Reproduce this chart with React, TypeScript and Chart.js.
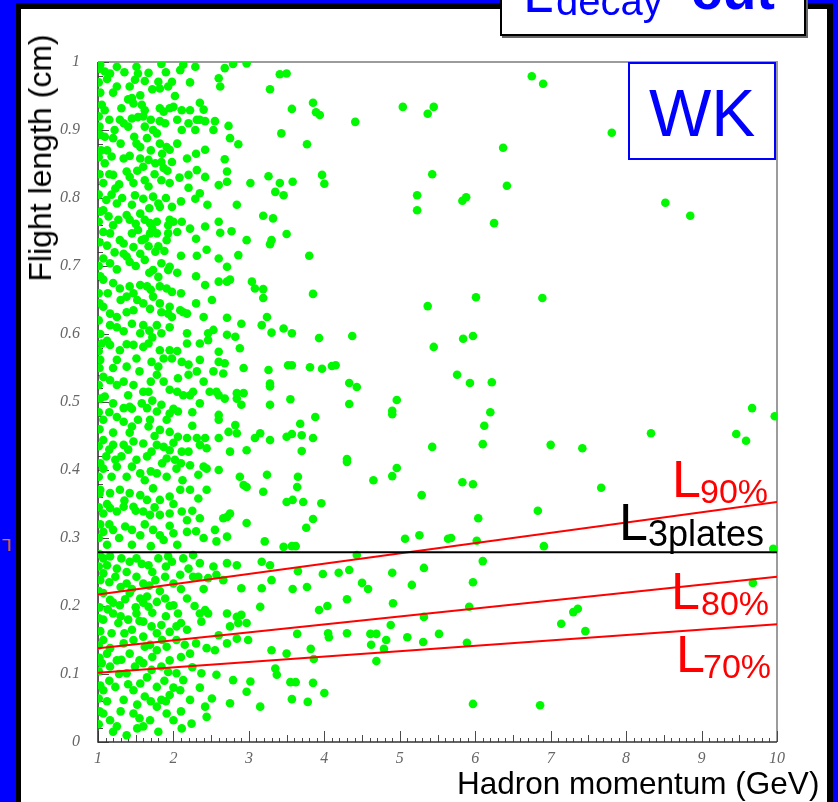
import React, { useEffect, useRef } from 'react';
import { Chart, registerables } from 'chart.js';
Chart.register(...registerables);

// ---------- axis ----------
const X_MIN = 1;
const X_MAX = 10;
const Y_MIN = 0;
const Y_MAX = 1;
const X_TICKS = [1, 2, 3, 4, 5, 6, 7, 8, 9, 10];
const X_TICK_LABELS = ['1', '2', '3', '4', '5', '6', '7', '8', '9', '10'];
const Y_TICKS = [0, 0.1, 0.2, 0.3, 0.4, 0.5, 0.6, 0.7, 0.8, 0.9, 1];
const Y_TICK_LABELS = ['0', '0.1', '0.2', '0.3', '0.4', '0.5', '0.6', '0.7', '0.8', '0.9', '1'];

// ---------- cut lines (x, y) ----------
const L90 = [[1, 0.217], [10, 0.353]];
const L80 = [[1, 0.138], [10, 0.243]];
const L70 = [[1, 0.102], [10, 0.173]];
const L3PLATES = [[1, 0.279], [10, 0.279]];

// ---------- events: hadron momentum (GeV), flight length (cm) ----------
const EDGE: [number, number][] = [
  [1.02, 0.99], [1.01, 0.97], [1.03, 0.955], [1.01, 0.92], [1.02, 0.905], [1.04, 0.87], [1.01, 0.86],
  [1.02, 0.835], [1.01, 0.805], [1.03, 0.78], [1.01, 0.765], [1.02, 0.735], [1.01, 0.7], [1.03, 0.685],
  [1.01, 0.66], [1.02, 0.645], [1.01, 0.62], [1.03, 0.6], [1.01, 0.575], [1.02, 0.55], [1.01, 0.525],
  [1.03, 0.505], [1.01, 0.485], [1.02, 0.46], [1.01, 0.435], [1.03, 0.41], [1.01, 0.39], [1.02, 0.365],
  [1.01, 0.345], [1.03, 0.32], [1.01, 0.3], [1.02, 0.276], [1.01, 0.258], [1.03, 0.238], [1.01, 0.222],
  [1.02, 0.198], [1.01, 0.182], [1.03, 0.163], [1.01, 0.142], [1.02, 0.124], [1.01, 0.104], [1.03, 0.083],
  [1.01, 0.064], [1.02, 0.045], [1.01, 0.026],
];

const UPPER_LEFT: [number, number][] = [
  [1.03, 0.996], [1.09, 0.986], [1.16, 0.983], [1.25, 0.993], [1.51, 0.993], [1.53, 0.983], [1.67, 0.984],
  [1.84, 0.997], [2.09, 0.988], [2.13, 0.996], [2.29, 0.993], [2.68, 0.991], [2.79, 0.997], [2.97, 0.998],
  [3.41, 0.982], [3.5, 0.983], [1.25, 0.964], [1.42, 0.964], [1.49, 0.974], [1.8, 0.971], [1.82, 0.961],
  [1.93, 0.964], [1.98, 0.971], [2.6, 0.976], [2.62, 0.964], [3.28, 0.96], [1.05, 0.937], [1.09, 0.929],
  [1.31, 0.932], [1.45, 0.947], [1.47, 0.939], [1.56, 0.951], [1.58, 0.937], [1.62, 0.929], [1.82, 0.932],
  [1.87, 0.927], [1.95, 0.932], [2.0, 0.934], [2.11, 0.929], [2.22, 0.929], [2.4, 0.93], [1.29, 0.915],
  [1.34, 0.91], [1.45, 0.917], [1.53, 0.919], [1.6, 0.92], [1.62, 0.905], [1.73, 0.9], [1.82, 0.913],
  [1.89, 0.91], [2.11, 0.9], [2.2, 0.91], [2.31, 0.915], [2.35, 0.915], [2.42, 0.913], [2.55, 0.913],
  [2.53, 0.9], [2.29, 0.9], [2.73, 0.906], [3.43, 0.895], [1.03, 0.893], [1.09, 0.89], [1.2, 0.888],
  [1.51, 0.88], [1.56, 0.875], [1.65, 0.888], [1.82, 0.88], [1.91, 0.875], [1.95, 0.871], [2.42, 0.871],
  [2.75, 0.888], [2.86, 0.879], [1.09, 0.851], [1.18, 0.861], [1.34, 0.858], [1.56, 0.858], [1.6, 0.846],
  [1.67, 0.856], [1.76, 0.851], [1.84, 0.853], [1.87, 0.844], [1.98, 0.853], [2.18, 0.858], [2.2, 0.834],
  [2.31, 0.841], [2.42, 0.831], [2.68, 0.857], [2.71, 0.839], [2.6, 0.819], [2.71, 0.824], [3.02, 0.822],
  [3.26, 0.832], [3.35, 0.809], [3.41, 0.822], [3.46, 0.804], [1.07, 0.822], [1.2, 0.834], [1.23, 0.814],
  [1.38, 0.839], [1.42, 0.831], [1.47, 0.822], [1.49, 0.804], [1.62, 0.826], [1.67, 0.817], [1.84, 0.826],
  [1.95, 0.822], [1.6, 0.799], [1.73, 0.802], [1.8, 0.792], [1.82, 0.787], [1.98, 0.787], [1.95, 0.768],
  [2.35, 0.807], [2.29, 0.799], [2.84, 0.79], [3.19, 0.774], [3.32, 0.77], [3.5, 0.747], [1.11, 0.797],
  [1.07, 0.782], [1.25, 0.792], [1.14, 0.773], [1.27, 0.768], [1.38, 0.775], [1.42, 0.768], [1.56, 0.777],
  [1.62, 0.768], [1.69, 0.763], [1.78, 0.765], [1.93, 0.76], [2.0, 0.765], [2.11, 0.765], [2.22, 0.755],
  [2.42, 0.758], [2.6, 0.765], [2.62, 0.749], [2.77, 0.751], [2.97, 0.738], [3.3, 0.738], [3.28, 0.732],
  [1.07, 0.75], [1.16, 0.748], [1.29, 0.738], [1.34, 0.733], [1.45, 0.748], [1.53, 0.753], [1.58, 0.738],
  [1.69, 0.748], [1.78, 0.748], [1.93, 0.748], [1.91, 0.738], [1.8, 0.729], [1.34, 0.718], [1.56, 0.718],
  [1.67, 0.729], [1.76, 0.721], [2.31, 0.715], [2.44, 0.724], [2.6, 0.711], [2.86, 0.716], [1.07, 0.711],
  [1.16, 0.704], [1.38, 0.714], [1.42, 0.706], [1.62, 0.709], [1.73, 0.694], [1.84, 0.704], [1.95, 0.699],
  [1.93, 0.694], [1.8, 0.684], [2.71, 0.699], [1.07, 0.68], [1.2, 0.675], [1.29, 0.667], [1.42, 0.67],
  [1.47, 0.66], [1.56, 0.672], [1.65, 0.67], [1.82, 0.67], [1.91, 0.667], [1.98, 0.662], [1.38, 0.655],
  [1.6, 0.645], [1.73, 0.655], [1.82, 0.645], [1.95, 0.64], [2.09, 0.635], [2.42, 0.672], [2.6, 0.677],
  [2.71, 0.677], [2.75, 0.68], [3.04, 0.677], [3.08, 0.667], [3.19, 0.666], [3.19, 0.653], [2.51, 0.65],
  [1.07, 0.64], [1.16, 0.63], [1.25, 0.625], [1.38, 0.632], [1.47, 0.635], [1.69, 0.637], [1.84, 0.632],
  [1.93, 0.63], [1.98, 0.625], [2.13, 0.632], [2.18, 0.63], [1.16, 0.613], [1.34, 0.604], [1.56, 0.601],
  [1.6, 0.613], [1.78, 0.613], [1.84, 0.601], [2.18, 0.601], [2.46, 0.601], [2.53, 0.606], [2.71, 0.624],
  [2.71, 0.599], [2.82, 0.596], [2.9, 0.615], [3.17, 0.613], [3.24, 0.625], [3.3, 0.602], [3.46, 0.608],
];

const FILL_UPPER: [number, number][] = [
  [1.12, 0.975], [1.2, 0.955], [1.35, 0.985], [1.4, 0.945], [1.62, 0.972], [1.72, 0.96], [1.9, 0.985],
  [2.02, 0.95], [2.22, 0.97], [1.15, 0.915], [1.22, 0.9], [1.4, 0.905], [1.48, 0.89], [1.7, 0.915],
  [1.78, 0.895], [2.05, 0.915], [2.35, 0.94], [1.12, 0.87], [1.3, 0.88], [1.42, 0.862], [1.7, 0.87],
  [1.85, 0.865], [2.05, 0.88], [2.3, 0.865], [1.15, 0.835], [1.28, 0.82], [1.52, 0.84], [1.75, 0.835],
  [1.92, 0.84], [2.08, 0.83], [2.2, 0.815], [1.18, 0.805], [1.32, 0.8], [1.45, 0.79], [1.68, 0.785],
  [1.9, 0.8], [2.1, 0.795], [2.45, 0.79], [1.2, 0.76], [1.5, 0.762], [1.72, 0.755], [2.05, 0.75],
  [2.3, 0.74], [1.12, 0.73], [1.22, 0.72], [1.47, 0.728], [1.62, 0.74], [1.88, 0.722], [2.1, 0.715],
  [1.25, 0.695], [1.5, 0.7], [1.68, 0.69], [2.05, 0.69], [2.3, 0.685], [1.13, 0.66], [1.3, 0.65],
  [1.52, 0.65], [1.7, 0.665], [2.1, 0.66], [2.3, 0.645], [1.25, 0.61], [1.45, 0.615], [1.68, 0.605],
  [1.95, 0.61], [2.4, 0.625],
];

const LOWER_LEFT: [number, number][] = [
  [1.05, 0.586], [1.16, 0.584], [1.29, 0.576], [1.47, 0.584], [1.6, 0.581], [1.67, 0.586], [1.82, 0.576],
  [1.95, 0.576], [2.18, 0.586], [2.35, 0.586], [2.46, 0.591], [2.6, 0.574], [2.88, 0.579], [1.03, 0.562],
  [1.25, 0.562], [1.38, 0.552], [1.51, 0.564], [1.71, 0.559], [1.87, 0.564], [1.98, 0.564], [2.11, 0.559],
  [2.31, 0.545], [2.35, 0.562], [2.53, 0.545], [2.6, 0.559], [2.68, 0.557], [2.66, 0.542], [2.93, 0.55],
  [3.26, 0.547], [3.52, 0.554], [1.07, 0.537], [1.16, 0.532], [1.34, 0.53], [1.47, 0.525], [1.6, 0.515],
  [1.67, 0.515], [1.78, 0.54], [1.87, 0.53], [1.95, 0.518], [2.06, 0.535], [2.2, 0.54], [2.26, 0.515],
  [2.48, 0.515], [2.57, 0.515], [2.84, 0.513], [2.93, 0.513], [3.28, 0.527], [3.28, 0.523], [1.09, 0.508],
  [1.2, 0.498], [1.34, 0.491], [1.42, 0.493], [1.58, 0.498], [1.65, 0.491], [1.78, 0.486], [1.84, 0.496],
  [1.95, 0.483], [2.06, 0.486], [2.13, 0.51], [2.22, 0.51], [2.35, 0.498], [2.6, 0.51], [2.6, 0.481],
  [2.68, 0.505], [2.84, 0.505], [2.9, 0.496], [3.28, 0.496], [1.07, 0.474], [1.25, 0.478], [1.34, 0.471],
  [1.45, 0.464], [1.53, 0.474], [1.69, 0.474], [1.91, 0.474], [1.67, 0.464], [1.82, 0.459], [1.95, 0.456],
  [2.06, 0.449], [2.18, 0.447], [2.31, 0.447], [2.42, 0.447], [2.6, 0.474], [2.6, 0.447], [2.73, 0.456],
  [2.82, 0.466], [2.84, 0.454], [3.08, 0.447], [3.15, 0.454], [3.28, 0.444], [3.5, 0.449], [1.07, 0.444],
  [1.2, 0.437], [1.34, 0.437], [1.47, 0.442], [1.6, 0.439], [1.78, 0.437], [1.87, 0.434], [1.95, 0.429],
  [2.11, 0.427], [2.2, 0.427], [2.02, 0.415], [1.91, 0.417], [1.71, 0.427], [1.51, 0.415], [1.31, 0.42],
  [1.23, 0.415], [1.11, 0.42], [2.35, 0.437], [2.44, 0.432], [2.75, 0.427], [2.97, 0.429], [1.07, 0.402],
  [1.25, 0.405], [1.38, 0.39], [1.56, 0.395], [1.62, 0.385], [1.78, 0.395], [1.91, 0.39], [2.04, 0.402],
  [2.22, 0.407], [2.4, 0.405], [2.33, 0.393], [2.44, 0.402], [2.88, 0.39], [2.93, 0.378], [2.97, 0.375],
  [3.24, 0.393], [1.03, 0.371], [1.16, 0.366], [1.29, 0.371], [1.42, 0.366], [1.56, 0.363], [1.65, 0.356],
  [1.73, 0.373], [1.82, 0.356], [1.95, 0.361], [2.09, 0.371], [2.22, 0.371], [2.44, 0.371], [2.33, 0.358],
  [3.19, 0.368], [3.5, 0.353], [1.07, 0.336], [1.16, 0.344], [1.25, 0.339], [1.34, 0.346], [1.47, 0.346],
  [1.6, 0.339], [1.69, 0.334], [1.82, 0.334], [1.95, 0.336], [2.11, 0.339], [2.18, 0.326], [2.35, 0.329],
  [2.66, 0.329], [2.71, 0.331], [2.75, 0.336], [1.07, 0.309], [1.2, 0.312], [1.36, 0.317], [1.45, 0.312],
  [1.56, 0.304], [1.73, 0.312], [1.82, 0.304], [1.87, 0.297], [2.0, 0.307], [2.18, 0.309], [2.4, 0.3],
  [2.55, 0.312], [2.57, 0.295], [2.71, 0.302], [2.97, 0.322], [3.21, 0.295], [3.46, 0.287], [1.07, 0.27],
  [1.16, 0.273], [1.31, 0.27], [1.42, 0.265], [1.51, 0.27], [1.67, 0.26], [1.8, 0.27], [1.93, 0.273],
  [1.98, 0.265], [2.13, 0.27], [2.26, 0.275], [2.35, 0.263], [2.53, 0.258], [2.71, 0.263], [2.84, 0.26],
  [3.17, 0.265], [3.28, 0.26], [1.07, 0.248], [1.23, 0.243], [1.38, 0.233], [1.51, 0.243], [1.6, 0.233],
  [1.76, 0.238], [1.89, 0.243], [2.0, 0.233], [2.09, 0.246], [2.26, 0.243], [2.33, 0.243], [2.46, 0.241],
  [2.57, 0.246], [2.66, 0.238], [2.9, 0.226], [3.17, 0.226], [3.3, 0.238], [1.07, 0.219], [1.16, 0.209],
  [1.29, 0.201], [1.42, 0.219], [1.56, 0.211], [1.65, 0.214], [1.67, 0.199], [1.78, 0.206], [1.89, 0.211],
  [2.0, 0.201], [2.06, 0.189], [2.18, 0.211], [2.35, 0.189], [2.42, 0.194], [2.46, 0.189], [2.71, 0.189],
  [2.84, 0.184], [2.9, 0.187], [2.97, 0.175], [3.15, 0.199], [1.07, 0.18], [1.2, 0.189], [1.27, 0.175],
  [1.4, 0.18], [1.51, 0.189], [1.6, 0.177], [1.71, 0.17], [1.84, 0.172], [1.95, 0.162], [2.04, 0.17],
  [2.18, 0.165], [2.37, 0.177], [2.6, 0.157], [2.75, 0.17], [2.84, 0.152], [2.86, 0.175], [1.07, 0.15],
  [1.16, 0.138], [1.34, 0.145], [1.47, 0.15], [1.6, 0.155], [1.69, 0.143], [1.78, 0.135], [1.91, 0.14],
  [2.04, 0.15], [2.15, 0.143], [2.22, 0.13], [2.44, 0.138], [2.55, 0.135], [2.71, 0.145], [2.99, 0.15],
  [3.3, 0.135], [3.5, 0.13], [1.05, 0.116], [1.16, 0.111], [1.31, 0.121], [1.38, 0.101], [1.49, 0.111],
  [1.6, 0.116], [1.71, 0.106], [1.84, 0.111], [1.93, 0.103], [2.04, 0.101], [2.13, 0.091], [2.37, 0.101],
  [2.57, 0.099], [2.79, 0.091], [3.02, 0.089], [3.35, 0.108], [3.37, 0.099], [1.07, 0.076], [1.23, 0.081],
  [1.34, 0.062], [1.47, 0.076], [1.56, 0.086], [1.62, 0.067], [1.78, 0.081], [1.84, 0.062], [1.95, 0.069],
  [2.09, 0.076], [2.22, 0.062], [2.42, 0.052], [2.51, 0.064], [2.75, 0.057], [2.97, 0.074], [3.15, 0.052],
  [1.07, 0.042], [1.16, 0.032], [1.25, 0.023], [1.38, 0.01], [1.47, 0.042], [1.6, 0.023], [1.69, 0.032],
  [1.78, 0.052], [1.91, 0.042], [2.0, 0.032], [2.11, 0.02], [2.24, 0.027], [2.44, 0.037],
];

const FILL_MID: [number, number][] = [
  [1.12, 0.59], [1.38, 0.585], [1.72, 0.595], [2.05, 0.575], [1.2, 0.55], [1.55, 0.545], [1.8, 0.552],
  [2.2, 0.555], [1.25, 0.525], [1.4, 0.51], [1.7, 0.53], [2.05, 0.515], [2.4, 0.53], [1.15, 0.485],
  [1.45, 0.49], [1.72, 0.502], [2.0, 0.49], [2.25, 0.485], [1.2, 0.455], [1.42, 0.455], [1.75, 0.45],
  [2.0, 0.44], [2.25, 0.465], [1.15, 0.43], [1.4, 0.43], [1.65, 0.42], [1.85, 0.41], [2.1, 0.41],
  [1.18, 0.39], [1.45, 0.405], [1.7, 0.398], [2.12, 0.385], [2.6, 0.4], [1.12, 0.35], [1.35, 0.355],
  [1.5, 0.34], [1.75, 0.345], [2.0, 0.35], [2.25, 0.34], [1.15, 0.32], [1.28, 0.3], [1.62, 0.32],
  [1.95, 0.318], [2.3, 0.31], [1.12, 0.29], [1.45, 0.29], [1.7, 0.288], [2.05, 0.29],
];

const FILL_LOW: [number, number][] = [
  [1.12, 0.26], [1.25, 0.255], [1.38, 0.25], [1.58, 0.262], [1.72, 0.25], [1.9, 0.258], [2.2, 0.255],
  [1.15, 0.235], [1.3, 0.228], [1.45, 0.225], [1.68, 0.23], [1.82, 0.222], [2.1, 0.225], [2.4, 0.225],
  [1.2, 0.205], [1.36, 0.21], [1.5, 0.198], [1.6, 0.205], [1.72, 0.19], [1.95, 0.2], [2.28, 0.2],
  [1.13, 0.195], [1.3, 0.185], [1.45, 0.165], [1.55, 0.178], [1.78, 0.16], [1.9, 0.185], [2.1, 0.175],
  [1.18, 0.16], [1.35, 0.16], [1.62, 0.14], [1.72, 0.125], [1.85, 0.15], [2.1, 0.125], [2.3, 0.145],
  [1.12, 0.13], [1.25, 0.12], [1.42, 0.13], [1.55, 0.12], [1.95, 0.12], [2.25, 0.11], [1.15, 0.09],
  [1.28, 0.1], [1.4, 0.085], [1.65, 0.095], [1.88, 0.09], [2.0, 0.08], [2.35, 0.08], [1.12, 0.06],
  [1.3, 0.045], [1.52, 0.055], [1.7, 0.06], [1.9, 0.06], [2.1, 0.045], [1.2, 0.015], [1.52, 0.02],
  [1.8, 0.015], [1.55, 0.035],
];

const MID_UPPER: [number, number][] = [
  [6.75, 0.979], [6.9, 0.968], [5.04, 0.934], [5.45, 0.934], [5.37, 0.924], [3.85, 0.94], [3.89, 0.926],
  [3.94, 0.922], [4.41, 0.912], [3.57, 0.931], [7.81, 0.896], [3.77, 0.879], [6.37, 0.874], [3.97, 0.834],
  [4.0, 0.821], [3.58, 0.824], [5.43, 0.835], [6.42, 0.818], [5.23, 0.804], [5.23, 0.782], [5.88, 0.801],
  [5.83, 0.796], [6.25, 0.763], [3.8, 0.715], [3.85, 0.659], [5.37, 0.641], [6.01, 0.654], [6.89, 0.653],
  [3.57, 0.601], [3.93, 0.594], [4.37, 0.597], [5.45, 0.581], [5.84, 0.593], [5.97, 0.597], [3.57, 0.554],
  [3.81, 0.551], [3.97, 0.549], [4.1, 0.553], [4.15, 0.554], [4.33, 0.528], [4.43, 0.522], [5.76, 0.54],
  [5.93, 0.528], [6.22, 0.529],
];

const MID_LOWER: [number, number][] = [
  [3.55, 0.504], [4.33, 0.497], [4.96, 0.503], [4.9, 0.487], [4.9, 0.482], [6.2, 0.485], [6.12, 0.465],
  [6.1, 0.438], [3.68, 0.468], [3.88, 0.478], [3.57, 0.453], [3.7, 0.451], [3.85, 0.447], [3.7, 0.428],
  [5.43, 0.434], [7.0, 0.437], [7.42, 0.432], [4.3, 0.416], [4.3, 0.412], [4.96, 0.403], [4.9, 0.391],
  [4.65, 0.385], [5.83, 0.382], [5.97, 0.379], [3.65, 0.39], [3.64, 0.375], [3.58, 0.356], [3.72, 0.353],
  [3.96, 0.351], [5.29, 0.363], [7.67, 0.374], [3.85, 0.328], [3.76, 0.315], [6.04, 0.329], [6.83, 0.34],
  [5.07, 0.299], [5.26, 0.304], [5.64, 0.299], [5.68, 0.3], [6.02, 0.296], [6.91, 0.288], [3.57, 0.288],
  [3.62, 0.288], [4.43, 0.275], [6.1, 0.266], [3.65, 0.251], [3.98, 0.247], [4.19, 0.249], [4.33, 0.253],
  [4.9, 0.249], [5.32, 0.256], [3.58, 0.225], [3.77, 0.228], [4.5, 0.234], [4.58, 0.225], [5.16, 0.231],
  [5.97, 0.235], [4.3, 0.21], [3.93, 0.194], [4.04, 0.2], [4.91, 0.204], [5.92, 0.199], [5.32, 0.184],
  [4.88, 0.172], [7.36, 0.196], [7.3, 0.191], [7.14, 0.174], [7.46, 0.163], [3.64, 0.159], [4.05, 0.16],
  [4.06, 0.154], [4.3, 0.16], [4.61, 0.159], [4.69, 0.159], [4.82, 0.15], [4.62, 0.143], [4.79, 0.137],
  [5.1, 0.154], [5.31, 0.147], [5.52, 0.159], [5.89, 0.146], [3.82, 0.137], [3.86, 0.122], [4.69, 0.119],
  [3.55, 0.088], [3.62, 0.088], [3.85, 0.087], [4.0, 0.072], [3.57, 0.063], [3.78, 0.059], [5.97, 0.056],
  [6.86, 0.054],
];

const RIGHT: [number, number][] = [
  [8.52, 0.793], [8.85, 0.774], [9.67, 0.491], [9.97, 0.479], [8.33, 0.454], [9.46, 0.453], [9.59, 0.443],
  [9.95, 0.284], [9.68, 0.234],
];

const FONT = '"Liberation Sans", Arial, sans-serif';

function Txt(props: { x: number; base: number; size: number; color: string; weight?: number; children: any }) {
  const { x, base, size, color, weight, children } = props;
  return (
    <div
      style={{
        position: 'absolute',
        left: x,
        top: base - 0.8465 * size,
        fontFamily: FONT,
        fontSize: size,
        lineHeight: 1,
        color,
        fontWeight: weight || 400,
        whiteSpace: 'nowrap',
      }}
    >
      {children}
    </div>
  );
}

export default function App() {
  const ref = useRef<HTMLCanvasElement>(null);

  useEffect(() => {
    const toXY = (arr: number[][]) => arr.map(([x, y]) => ({ x, y }));
    const events = [
      ...EDGE, ...UPPER_LEFT, ...FILL_UPPER, ...LOWER_LEFT, ...FILL_MID, ...FILL_LOW,
      ...MID_UPPER, ...MID_LOWER, ...RIGHT,
    ];

    const frame = {
      id: 'frame',
      beforeDatasetsDraw(chart: any) {
        const { ctx, chartArea: a, scales } = chart;
        const xs = scales.x;
        const ys = scales.y;
        ctx.save();
        ctx.strokeStyle = '#9c9c9c';
        ctx.lineWidth = 2;
        ctx.beginPath();
        ctx.moveTo(a.left, a.top);
        ctx.lineTo(a.right, a.top);
        ctx.lineTo(a.right, a.bottom);
        ctx.stroke();
        ctx.strokeStyle = '#4a4a4a';
        ctx.lineWidth = 1;
        ctx.beginPath();
        for (let i = 0; i <= 90; i++) {
          const px = Math.round(xs.getPixelForValue(X_MIN + i / 10)) + 0.5;
          const len = i % 10 === 0 ? 11 : i % 5 === 0 ? 7 : 4;
          ctx.moveTo(px, a.bottom);
          ctx.lineTo(px, a.bottom - len);
        }
        for (let i = 0; i <= 50; i++) {
          const py = Math.round(ys.getPixelForValue(Y_MIN + i / 50)) + 0.5;
          const len = i % 5 === 0 ? 11 : 5;
          ctx.moveTo(a.left, py);
          ctx.lineTo(a.left + len, py);
        }
        ctx.stroke();
        ctx.strokeStyle = '#333';
        ctx.lineWidth = 1.6;
        ctx.beginPath();
        ctx.moveTo(a.left, a.top);
        ctx.lineTo(a.left, a.bottom);
        ctx.lineTo(a.right, a.bottom);
        ctx.stroke();
        ctx.restore();
      },
    };

    const lineDs = (data: number[][], color: string) => ({
      type: 'line' as const,
      data: toXY(data),
      borderColor: color,
      borderWidth: 2,
      pointRadius: 0,
      fill: false,
      tension: 0,
    });

    const tickFont = { family: '"Liberation Serif", "DejaVu Serif", serif', style: 'italic' as const, size: 16 };

    const chart = new Chart(ref.current as HTMLCanvasElement, {
      type: 'scatter',
      data: {
        datasets: [
          lineDs(L3PLATES, '#000000'),
          lineDs(L90, '#ff0000'),
          lineDs(L80, '#ff0000'),
          lineDs(L70, '#ff0000'),
          {
            type: 'scatter' as const,
            data: toXY(events),
            backgroundColor: '#00f800',
            borderWidth: 0,
            pointRadius: 4.3,
            pointHoverRadius: 4.3,
          },
        ] as any,
      },
      options: {
        animation: false,
        responsive: false,
        devicePixelRatio: 1,
        events: [],
        layout: { padding: { left: 0, top: 62, right: 61, bottom: 0 } },
        plugins: { legend: { display: false }, tooltip: { enabled: false }, title: { display: false } },
        scales: {
          x: {
            type: 'linear',
            min: X_MIN,
            max: X_MAX,
            grid: { display: false, drawTicks: false },
            border: { display: false },
            afterBuildTicks: (s: any) => {
              s.ticks = X_TICKS.map((v) => ({ value: v }));
            },
            afterFit: (s: any) => {
              s.height = 60;
            },
            ticks: {
              padding: 7,
              color: '#666',
              font: tickFont,
              maxRotation: 0,
              autoSkip: false,
              callback: (_v: any, i: number) => X_TICK_LABELS[i],
            },
          },
          y: {
            type: 'linear',
            min: Y_MIN,
            max: Y_MAX,
            grid: { display: false, drawTicks: false },
            border: { display: false },
            afterBuildTicks: (s: any) => {
              s.ticks = Y_TICKS.map((v) => ({ value: v }));
            },
            afterFit: (s: any) => {
              s.width = 98;
            },
            ticks: {
              padding: 18,
              color: '#666',
              font: tickFont,
              autoSkip: false,
              callback: (_v: any, i: number) => Y_TICK_LABELS[i],
            },
          },
        },
      },
      plugins: [frame],
    });
    return () => chart.destroy();
  }, []);

  return (
    <div
      style={{
        position: 'absolute',
        left: 0,
        top: 0,
        width: 838,
        height: 802,
        overflow: 'hidden',
        background: '#0000ff',
      }}
    >
      <div style={{ position: 'absolute', left: 16, top: 3, width: 817, height: 820, background: '#000' }} />
      <div style={{ position: 'absolute', left: 21, top: 9, width: 806, height: 820, background: '#fff' }} />
      <canvas
        ref={ref}
        width={838}
        height={802}
        style={{ position: 'absolute', left: 0, top: 0, width: 838, height: 802 }}
      />

      {/* axis titles */}
      <div
        style={{
          position: 'absolute',
          left: 40,
          top: 158,
          transform: 'translate(-50%, -50%) rotate(-90deg)',
          fontFamily: FONT,
          fontSize: 32,
          lineHeight: 1,
          color: '#000',
          whiteSpace: 'nowrap',
        }}
      >
        Flight length (cm)
      </div>
      <Txt x={457} base={795} size={31.5} color="#000">Hadron momentum (GeV)</Txt>

      {/* WK box */}
      <div
        style={{
          position: 'absolute',
          left: 628,
          top: 62,
          width: 148,
          height: 98,
          boxSizing: 'border-box',
          border: '2px solid #0000ff',
          background: '#fff',
        }}
      />
      <Txt x={649} base={136} size={66} color="#0000ff">WK</Txt>

      {/* L_decay cut box */}
      <div
        style={{
          position: 'absolute',
          left: 500,
          top: -30,
          width: 306,
          height: 66,
          boxSizing: 'border-box',
          border: '2px solid #000',
          background: '#fff',
          boxShadow: '2px 2px 0 #666',
        }}
      />
      <Txt x={523} base={13} size={55} color="#0000ff">L</Txt>
      <Txt x={556} base={15} size={40} color="#0000ff">decay</Txt>
      <Txt x={691} base={9} size={56} color="#0000ff" weight={700}>cut</Txt>

      {/* cut-line labels */}
      <Txt x={672} base={497} size={52} color="#ff0000">L</Txt>
      <Txt x={700} base={503} size={34} color="#ff0000">90%</Txt>
      <Txt x={619} base={540} size={52} color="#000">L</Txt>
      <Txt x={648} base={546} size={36} color="#000">3plates</Txt>
      <Txt x={671} base={609} size={52} color="#ff0000">L</Txt>
      <Txt x={701} base={615} size={34} color="#ff0000">80%</Txt>
      <Txt x={676} base={672} size={52} color="#ff0000">L</Txt>
      <Txt x={703} base={678} size={34} color="#ff0000">70%</Txt>

      {/* small mark on the left border */}
      <div
        style={{
          position: 'absolute',
          left: 2,
          top: 536,
          fontFamily: FONT,
          fontSize: 17,
          lineHeight: 1,
          color: '#ff8000',
          transform: 'rotate(180deg)',
        }}
      >
        L
      </div>
    </div>
  );
}
